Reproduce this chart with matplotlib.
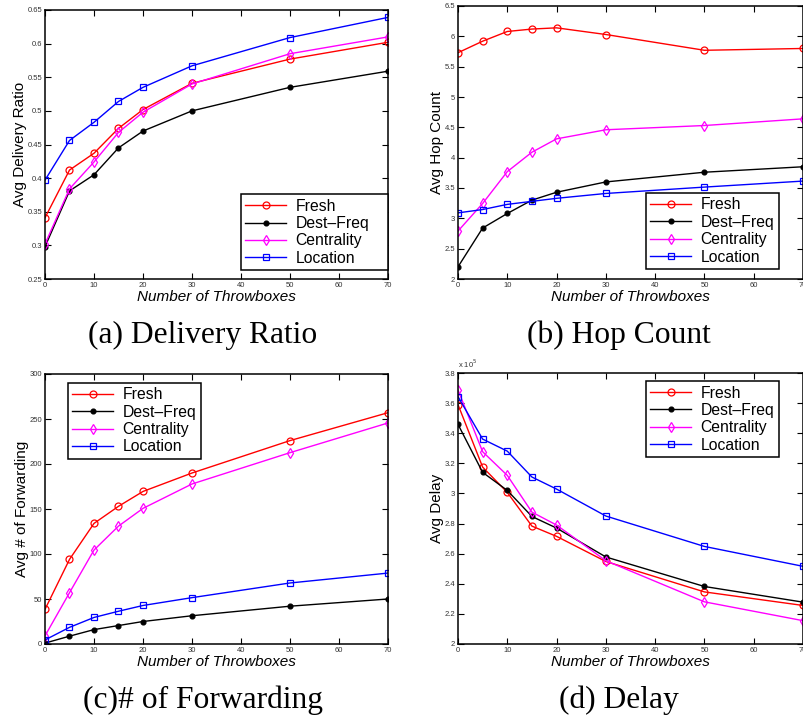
"""
Throwbox routing comparison: delivery ratio, hop count, forwarding, delay.
"""
import matplotlib
matplotlib.use("Agg")
import matplotlib.pyplot as plt
import numpy as np

# data
throwboxes = [0, 5, 10, 15, 20, 30, 50, 70]

delivery_fresh = [0.341, 0.412, 0.437, 0.474, 0.502, 0.541, 0.577, 0.602]
delivery_dest = [0.298, 0.381, 0.405, 0.445, 0.470, 0.500, 0.535, 0.559]
delivery_cent = [0.302, 0.384, 0.424, 0.468, 0.498, 0.540, 0.585, 0.610]
delivery_loc = [0.397, 0.456, 0.483, 0.514, 0.535, 0.567, 0.609, 0.639]

hop_fresh = [5.73, 5.92, 6.08, 6.12, 6.14, 6.03, 5.77, 5.80]
hop_dest = [2.20, 2.84, 3.08, 3.30, 3.43, 3.60, 3.76, 3.85]
hop_cent = [2.79, 3.245, 3.77, 4.09, 4.31, 4.46, 4.53, 4.64]
hop_loc = [3.09, 3.145, 3.23, 3.28, 3.33, 3.41, 3.515, 3.614]

fwd_fresh = [38.5, 94, 134, 153, 169.5, 190, 226, 257]
fwd_dest = [1, 8.7, 16, 20.5, 25, 31.4, 42, 50]
fwd_cent = [9, 57, 104.4, 131, 150.7, 177.8, 212.6, 245.6]
fwd_loc = [4.5, 18.5, 29.5, 36.4, 42.8, 51.5, 67.8, 78.8]

# delay in units of 1e5
delay_fresh = [3.590, 3.175, 3.007, 2.783, 2.715, 2.548, 2.346, 2.256]
delay_dest = [3.459, 3.140, 3.020, 2.847, 2.770, 2.578, 2.382, 2.278]
delay_cent = [3.687, 3.277, 3.120, 2.876, 2.790, 2.553, 2.280, 2.155]
delay_loc = [3.643, 3.361, 3.281, 3.109, 3.029, 2.850, 2.648, 2.516]

labels = ["Fresh", "Dest\u2013Freq", "Centrality", "Location"]
styles = [dict(color="#ff0000", marker="o", mfc="none", ms=5),
          dict(color="#000000", marker=".", ms=7),
          dict(color="#ff00ff", marker="d", mfc="none", ms=5),
          dict(color="#0000ff", marker="s", mfc="none", ms=4.5)]

W, H = 804, 723
plt.rcParams["font.family"] = ["Liberation Sans", "DejaVu Sans"]


def rect(left, right, top, bottom):
    return [left / W, (H - bottom) / H, (right - left) / W, (bottom - top) / H]


def panel(fig, box, series, yticks, ylabel, legend_kw):
    ax = fig.add_axes(box)
    for ys, lab, st in zip(series, labels, styles):
        ax.plot(throwboxes, ys, lw=1, mew=0.9, label=lab, **st)
    ax.set_xlim(0, 70)
    ax.set_xticks(np.arange(0, 71, 10))
    ax.set_ylim(yticks[0], yticks[-1])
    ax.set_yticks(yticks)
    ax.set_yticklabels(["%g" % round(t, 3) for t in yticks])
    ax.tick_params(direction="in", top=True, right=True, length=4,
                   width=0.8, labelsize=5.5, labelcolor="#333333", pad=2)
    for sp in ax.spines.values():
        sp.set_linewidth(1.1)
    ax.set_xlabel("Number of Throwboxes", fontsize=11, style="italic", labelpad=1)
    ax.set_ylabel(ylabel, fontsize=11, labelpad=0.5)
    leg = ax.legend(fontsize=11.3, fancybox=False, edgecolor="black",
                    framealpha=1, borderaxespad=0, handlelength=2.6,
                    labelspacing=0.15, borderpad=0.28, handletextpad=0.6,
                    **legend_kw)
    leg.get_frame().set_linewidth(1.1)
    return ax


fig = plt.figure(figsize=(W / 100, H / 100), dpi=100)

panel(fig, rect(45, 388, 10, 279),
      [delivery_fresh, delivery_dest, delivery_cent, delivery_loc],
      np.arange(0.25, 0.651, 0.05), "Avg Delivery Ratio",
      dict(loc="lower left", mode="expand",
           bbox_to_anchor=(196 / 343, 0.033, 147 / 343, 0.3)))

panel(fig, rect(458, 803, 6, 279),
      [hop_fresh, hop_dest, hop_cent, hop_loc],
      np.arange(2, 6.51, 0.5), "Avg Hop Count",
      dict(loc="lower right", bbox_to_anchor=(0.93, 0.037)))

panel(fig, rect(45, 388, 374, 644),
      [fwd_fresh, fwd_dest, fwd_cent, fwd_loc],
      np.arange(0, 301, 50), "Avg # of Forwarding",
      dict(loc="upper left", bbox_to_anchor=(0.067, 0.967)))

ax_d = panel(fig, rect(458, 803, 373, 644),
             [delay_fresh, delay_dest, delay_cent, delay_loc],
             np.arange(2, 3.81, 0.2), "Avg Delay",
             dict(loc="upper right", bbox_to_anchor=(0.93, 0.97)))
ax_d.text(0.0, 1.01, r"x 10$^5$", transform=ax_d.transAxes, fontsize=5.5,
          color="#333333", ha="left", va="bottom")

captions = [("(a) Delivery Ratio", 203, 335), ("(b) Hop Count", 619, 335),
            ("(c)# of Forwarding", 203, 700), ("(d) Delay", 619, 700)]
for txt, cx, cy in captions:
    fig.text(cx / W, 1 - cy / H, txt, fontsize=22.7, family="Liberation Serif",
             ha="center", va="center")

fig.savefig("out.png", dpi=100)
